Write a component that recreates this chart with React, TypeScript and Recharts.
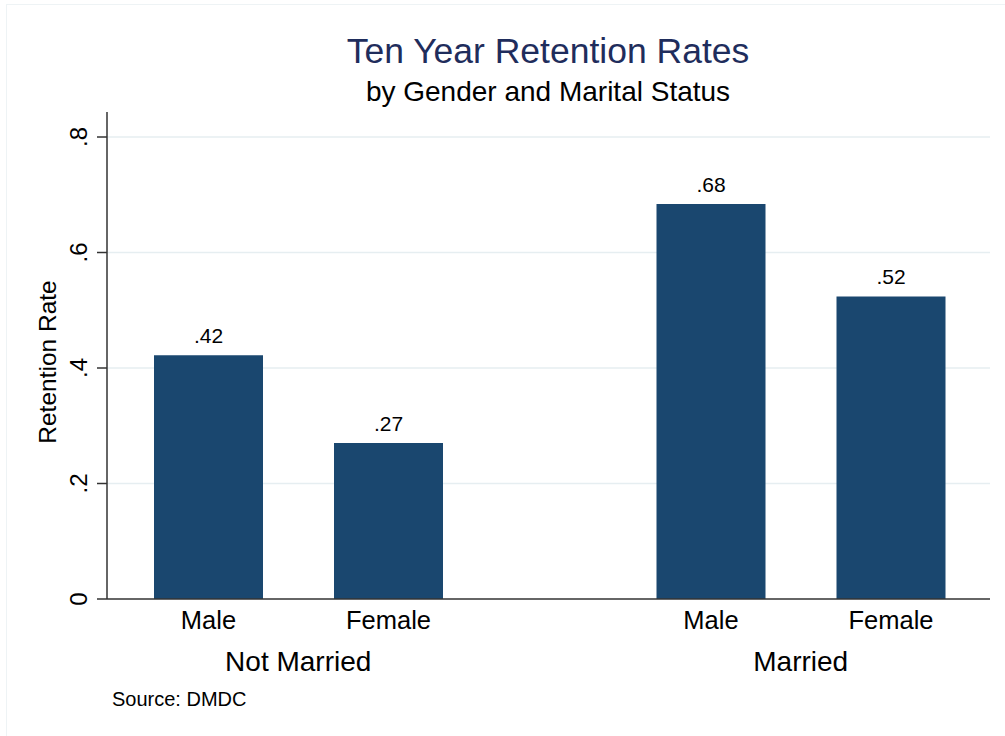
import {
  BarChart,
  Bar,
  XAxis,
  YAxis,
  CartesianGrid,
  LabelList,
} from "recharts";

// values
const groups = ["Not Married", "Married"];
const genders = ["Male", "Female"];
const maleRates = [0.422, 0.684];
const femaleRates = [0.27, 0.524];
const yTicks = [0, 0.2, 0.4, 0.6, 0.8];

const chartData = groups.map((g, i) => ({
  group: g,
  Male: maleRates[i],
  Female: femaleRates[i],
}));

const FONT = "'Liberation Sans', Arial, Helvetica, sans-serif";
const NAVY = "#1a476f";

// Stata style: drop leading zero
const stataNum = (v: number, digits: number) =>
  v === 0 ? "0" : v.toFixed(digits).replace(/^0/, "");

const YTick = ({ x, y, payload }: any) => (
  <text
    x={x}
    y={y}
    transform={`rotate(-90, ${x}, ${y})`}
    textAnchor="middle"
    fontSize={24}
    fontFamily={FONT}
    fill="#000"
  >
    {stataNum(payload.value, 1)}
  </text>
);

const GroupTick = ({ x, y, payload }: any) => (
  <text
    x={x}
    y={y + 72}
    textAnchor="middle"
    fontSize={28}
    fontFamily={FONT}
    fill="#000"
  >
    {payload.value}
  </text>
);

// gender name under each bar
const genderLabel = (name: string) => (props: any) => {
  const { x, y, width, height } = props;
  return (
    <text
      x={x + width / 2}
      y={y + height + 30}
      textAnchor="middle"
      fontSize={25.5}
      fontFamily={FONT}
      fill="#000"
    >
      {name}
    </text>
  );
};

export default function App() {
  return (
    <div
      style={{
        position: "absolute",
        left: 0,
        top: 0,
        width: 1005,
        height: 736,
        background: "#fff",
        fontFamily: FONT,
      }}
    >
      <div
        style={{
          position: "absolute",
          left: 6,
          top: 4,
          width: 1010,
          height: 740,
          border: "1px solid #eef3f5",
        }}
      />
      <BarChart
        width={1005}
        height={736}
        data={chartData}
        margin={{ top: 112, right: 15, bottom: 0, left: 0 }}
        barSize={109}
        barGap={71}
      >
        <CartesianGrid
          horizontal={true}
          vertical={false}
          stroke="#e6eef1"
          strokeWidth={1.5}
          horizontalValues={yTicks.slice(1)}
        />
        <XAxis
          dataKey="group"
          height={137}
          padding={{ left: -60, right: -62 }}
          tickLine={false}
          tickSize={0}
          tickMargin={0}
          axisLine={{ stroke: "#333", strokeWidth: 1.5 }}
          tick={<GroupTick />}
          interval={0}
        />
        <YAxis
          type="number"
          width={107}
          domain={[0, 0.8433]}
          allowDataOverflow
          ticks={yTicks}
          tickSize={10}
          tickMargin={10}
          tickLine={{ stroke: "#333", strokeWidth: 1.5 }}
          axisLine={{ stroke: "#333", strokeWidth: 1.5 }}
          tick={<YTick />}
          label={{
            content: () => (
              <text
                x={56}
                y={362}
                transform="rotate(-90, 56, 362)"
                textAnchor="middle"
                fontSize={24.5}
                fontFamily={FONT}
                fill="#000"
              >
                Retention Rate
              </text>
            ),
          }}
        />
        {genders.map((g) => (
          <Bar key={g} dataKey={g} fill={NAVY} isAnimationActive={false}>
            <LabelList
              dataKey={g}
              position="top"
              offset={12}
              formatter={(v: any) => stataNum(Number(v), 2)}
              fontSize={21}
              fontFamily={FONT}
              fill="#000"
            />
            <LabelList dataKey={g} content={genderLabel(g)} />
          </Bar>
        ))}
      </BarChart>
      <svg
        width={1005}
        height={736}
        style={{ position: "absolute", left: 0, top: 0, pointerEvents: "none" }}
      >
        <text
          x={548}
          y={63}
          textAnchor="middle"
          fontSize={35.5}
          fontFamily={FONT}
          fill="#1f2d5c"
        >
          Ten Year Retention Rates
        </text>
        <text
          x={548}
          y={101}
          textAnchor="middle"
          fontSize={28}
          fontFamily={FONT}
          fill="#000"
        >
          by Gender and Marital Status
        </text>
        <text x={112} y={706} fontSize={20} fontFamily={FONT} fill="#000">
          Source: DMDC
        </text>
      </svg>
    </div>
  );
}
